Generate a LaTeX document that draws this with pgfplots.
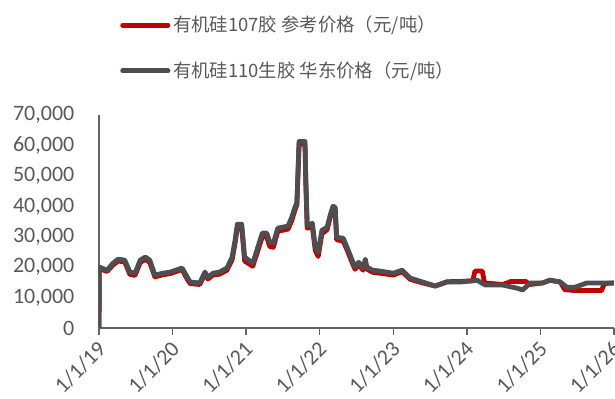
\documentclass[border=0pt]{standalone}
\usepackage{fontspec}
\setmainfont{Carlito}
\newfontfamily\cjk{Noto Sans CJK SC}
\usepackage{pgfplots}
\pgfplotsset{compat=1.18}
\definecolor{redline}{RGB}{192,0,0}
\definecolor{grayline}{RGB}{78,78,80}
\definecolor{txtgray}{RGB}{89,89,89}
\definecolor{axgray}{RGB}{100,100,100}
\begin{document}
\begin{tikzpicture}
\useasboundingbox (-74.25pt,-53.25pt) rectangle (387pt,246pt);
\begin{axis}[
    scale only axis,
    width=386.25pt, height=159.75pt,
    xmin=0, xmax=7,
    ymin=0, ymax=70000,
    enlargelimits=false,
    axis x line*=bottom,
    axis y line*=left,
    axis line style={axgray, line width=1.2pt},
    xtick={0,1,2,3,4,5,6,7},
    xticklabels={1/1/19,1/1/20,1/1/21,1/1/22,1/1/23,1/1/24,1/1/25,1/1/26},
    xticklabel style={rotate=45, anchor=north east, font=\fontsize{16.5}{19}\selectfont, text=txtgray, inner sep=1pt, xshift=-3pt},
    x tick style={axgray, line width=1pt},
    tick align=outside,
    major tick length=5pt,
    ytick={0,10000,...,70000},
    y tick style={draw=none},
    yticklabel style={font=\fontsize{16.5}{19}\selectfont, text=txtgray, xshift=-10pt},
    scaled y ticks=false,
    /pgf/number format/.cd, 1000 sep={,}, assume math mode=true,
    /pgfplots/.cd,
    legend style={draw=none, fill=none, at={(0.033,1.49)}, anchor=north west,
        font=\cjk\fontsize{13.8}{16}\selectfont, text=txtgray, row sep=17pt,
        legend cell align=left},
    legend image code/.code={\draw[#1, line cap=round] (0pt,0pt) -- (34pt,0pt);},
    every axis plot/.append style={line join=round, line width=3.6pt},
    clip=true,
]
% 有机硅107胶 参考价格
\addplot[redline, no markers] coordinates {
(0,0)(0.005,19500)(0.11,18600)(0.19,20700)(0.26,22000)(0.35,21700)(0.42,17600)
(0.49,17300)(0.56,21500)(0.63,22600)(0.69,21500)(0.76,16800)(0.87,17500)(0.97,17900)
(1.13,19200)(1.20,16000)(1.24,14600)(1.37,14300)(1.44,17800)(1.48,16100)(1.55,17400)
(1.64,17700)(1.74,19000)(1.81,22500)(1.85,28000)(1.88,33000)(1.94,33000)(1.98,22000)
(2.09,20300)(2.16,25500)(2.22,30000)(2.28,30000)(2.32,26800)(2.37,26500)(2.43,31800)
(2.57,32500)(2.62,35300)(2.66,38500)(2.69,40500)(2.72,60500)(2.80,60500)(2.81,48500)
(2.83,32800)(2.90,33200)(2.94,25500)(2.98,23500)(3.03,31000)(3.10,32300)(3.15,37000)
(3.18,39200)(3.21,39000)(3.23,29000)(3.32,28500)(3.37,25800)(3.44,21500)(3.48,19300)
(3.53,20800)(3.59,19000)(3.62,21500)(3.64,19400)(3.72,18300)(3.82,18000)(4.00,17400)
(4.12,18500)(4.23,16000)(4.40,14800)(4.57,13800)(4.73,15200)(4.91,15300)(5.08,15500)
(5.11,18700)(5.21,18700)(5.24,14800)(5.49,14300)(5.60,15300)(5.80,15300)(5.86,14300)
(6.03,14800)(6.13,15700)(6.27,15100)(6.33,12600)(6.47,12300)(6.83,12300)(6.87,14600)
(7.0,14800)
};
\addlegendentry{有机硅107胶 参考价格（元/吨）}
% 有机硅110生胶 华东价格
\addplot[grayline, no markers] coordinates {
(0,0)(0.005,20000)(0.11,19000)(0.19,21300)(0.26,22600)(0.35,22300)(0.42,18400)
(0.49,18000)(0.56,22300)(0.63,23300)(0.69,22300)(0.76,17400)(0.87,18000)(0.97,18400)
(1.13,19700)(1.20,16700)(1.24,15100)(1.37,14800)(1.44,18400)(1.48,16700)(1.55,18000)
(1.64,18400)(1.74,19700)(1.81,23300)(1.85,28900)(1.88,34100)(1.94,34100)(1.98,23300)
(2.09,21300)(2.16,26600)(2.22,31200)(2.28,31200)(2.32,28200)(2.37,27900)(2.43,32800)
(2.57,33500)(2.62,36400)(2.66,39400)(2.69,41300)(2.72,61300)(2.80,61300)(2.81,49500)
(2.83,33800)(2.90,34400)(2.94,26600)(2.98,24900)(3.03,32100)(3.10,33100)(3.15,37700)
(3.18,40000)(3.21,39700)(3.23,29800)(3.32,29500)(3.37,26600)(3.44,22300)(3.48,20000)
(3.53,21600)(3.59,19700)(3.62,22600)(3.64,20000)(3.72,19000)(3.82,18700)(4.00,18000)
(4.12,19000)(4.23,16400)(4.40,15100)(4.57,13800)(4.73,15100)(4.91,15100)(5.14,15700)
(5.25,14100)(5.49,14100)(5.68,13100)(5.76,12500)(5.86,14800)(6.03,14800)(6.13,15700)
(6.27,15100)(6.36,13400)(6.47,13400)(6.63,14800)(7.0,14800)
};
\addlegendentry{有机硅110生胶 华东价格（元/吨）}
\end{axis}
\end{tikzpicture}
\end{document}
